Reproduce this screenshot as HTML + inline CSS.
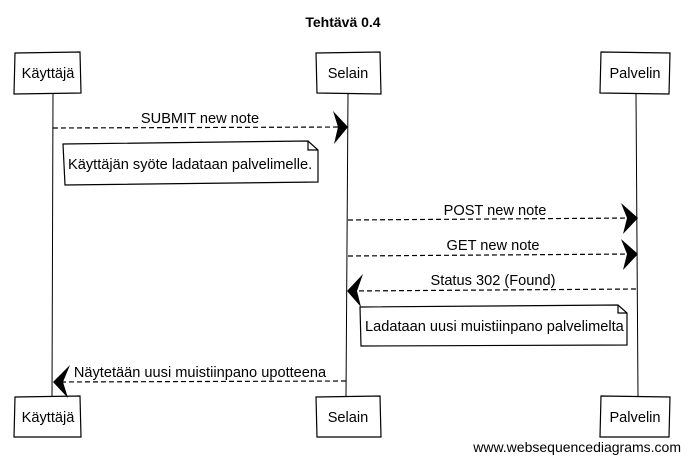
<!DOCTYPE html>
<html><head><meta charset="utf-8"><style>
body{margin:0;background:#fff;}
svg text{font-family:"Liberation Sans",Arial,sans-serif;fill:#000;}
</style></head><body>
<svg width="689" height="462" viewBox="0 0 689 462" xmlns="http://www.w3.org/2000/svg">
<text x="343" y="27" font-size="14" font-weight="bold" text-anchor="middle">Tehtävä 0.4</text>
<g stroke="#000" stroke-width="1" fill="none">
<path d="M53 93 L52 397"/>
<path d="M348 93 L346 397"/>
<path d="M636 93 L638 397"/>
</g>
<g stroke="#000" stroke-width="1.2" fill="#fff">
<path d="M15 53 L80 52 L81 93 L14 94 Z"/>
<path d="M316 53 L380 52 L381 94 L317 93 Z"/>
<path d="M601 52 L670 53 L669 94 L600 93 Z"/>
<path d="M15 397 L80 396 L81 437 L14 437 Z"/>
<path d="M316 397 L380 396 L381 437 L317 437 Z"/>
<path d="M601 396 L670 397 L669 437 L600 437 Z"/>
</g>
<g font-size="14.6" text-anchor="middle">
<text x="48" y="78">Käyttäjä</text>
<text x="348" y="78">Selain</text>
<text x="635" y="78">Palvelin</text>
<text x="48" y="422">Käyttäjä</text>
<text x="348" y="422">Selain</text>
<text x="635" y="422">Palvelin</text>
</g>
<g stroke="#000" stroke-width="1.2" fill="none" stroke-dasharray="5,3">
<path d="M53 128 L345 127"/>
<path d="M348 220 L634 218"/>
<path d="M348 256 L634 254"/>
<path d="M636 289 L350 291"/>
<path d="M346 381 L57 382"/>
</g>
<g fill="#000">
<path d="M333 111 L348 127 L334 144 L338 127 Z"/>
<path d="M621 203 L638 218 L623 234 L627 218 Z"/>
<path d="M621 239 L638 254 L623 270 L627 254 Z"/>
<path d="M363 274 L347 291 L361 307 L357 291 Z"/>
<path d="M70 365 L53 382 L68 398 L63 382 Z"/>
</g>
<g font-size="14.6" text-anchor="middle">
<text x="200" y="123">SUBMIT new note</text>
<text x="495" y="215">POST new note</text>
<text x="493" y="250">GET new note</text>
<text x="493" y="285">Status 302 (Found)</text>
<text x="200" y="377">Näytetään uusi muistiinpano upotteena</text>
</g>
<g stroke="#000" stroke-width="1.2" fill="#fff">
<path d="M63 144 L308 141 L318 150 L318 182 L65 185 Z"/>
<path d="M308 141 L308 150 L318 150" fill="none"/>
<path d="M360 307 L618 305 L627 313 L627 345 L361 346 Z"/>
<path d="M618 305 L618 313 L627 313" fill="none"/>
</g>
<g font-size="14.6">
<text x="68" y="169">Käyttäjän syöte ladataan palvelimelle.</text>
<text x="365" y="331">Ladataan uusi muistiinpano palvelimelta</text>
</g>
<text x="681" y="452" font-size="14" text-anchor="end">www.websequencediagrams.com</text>
</svg>
</body></html>
